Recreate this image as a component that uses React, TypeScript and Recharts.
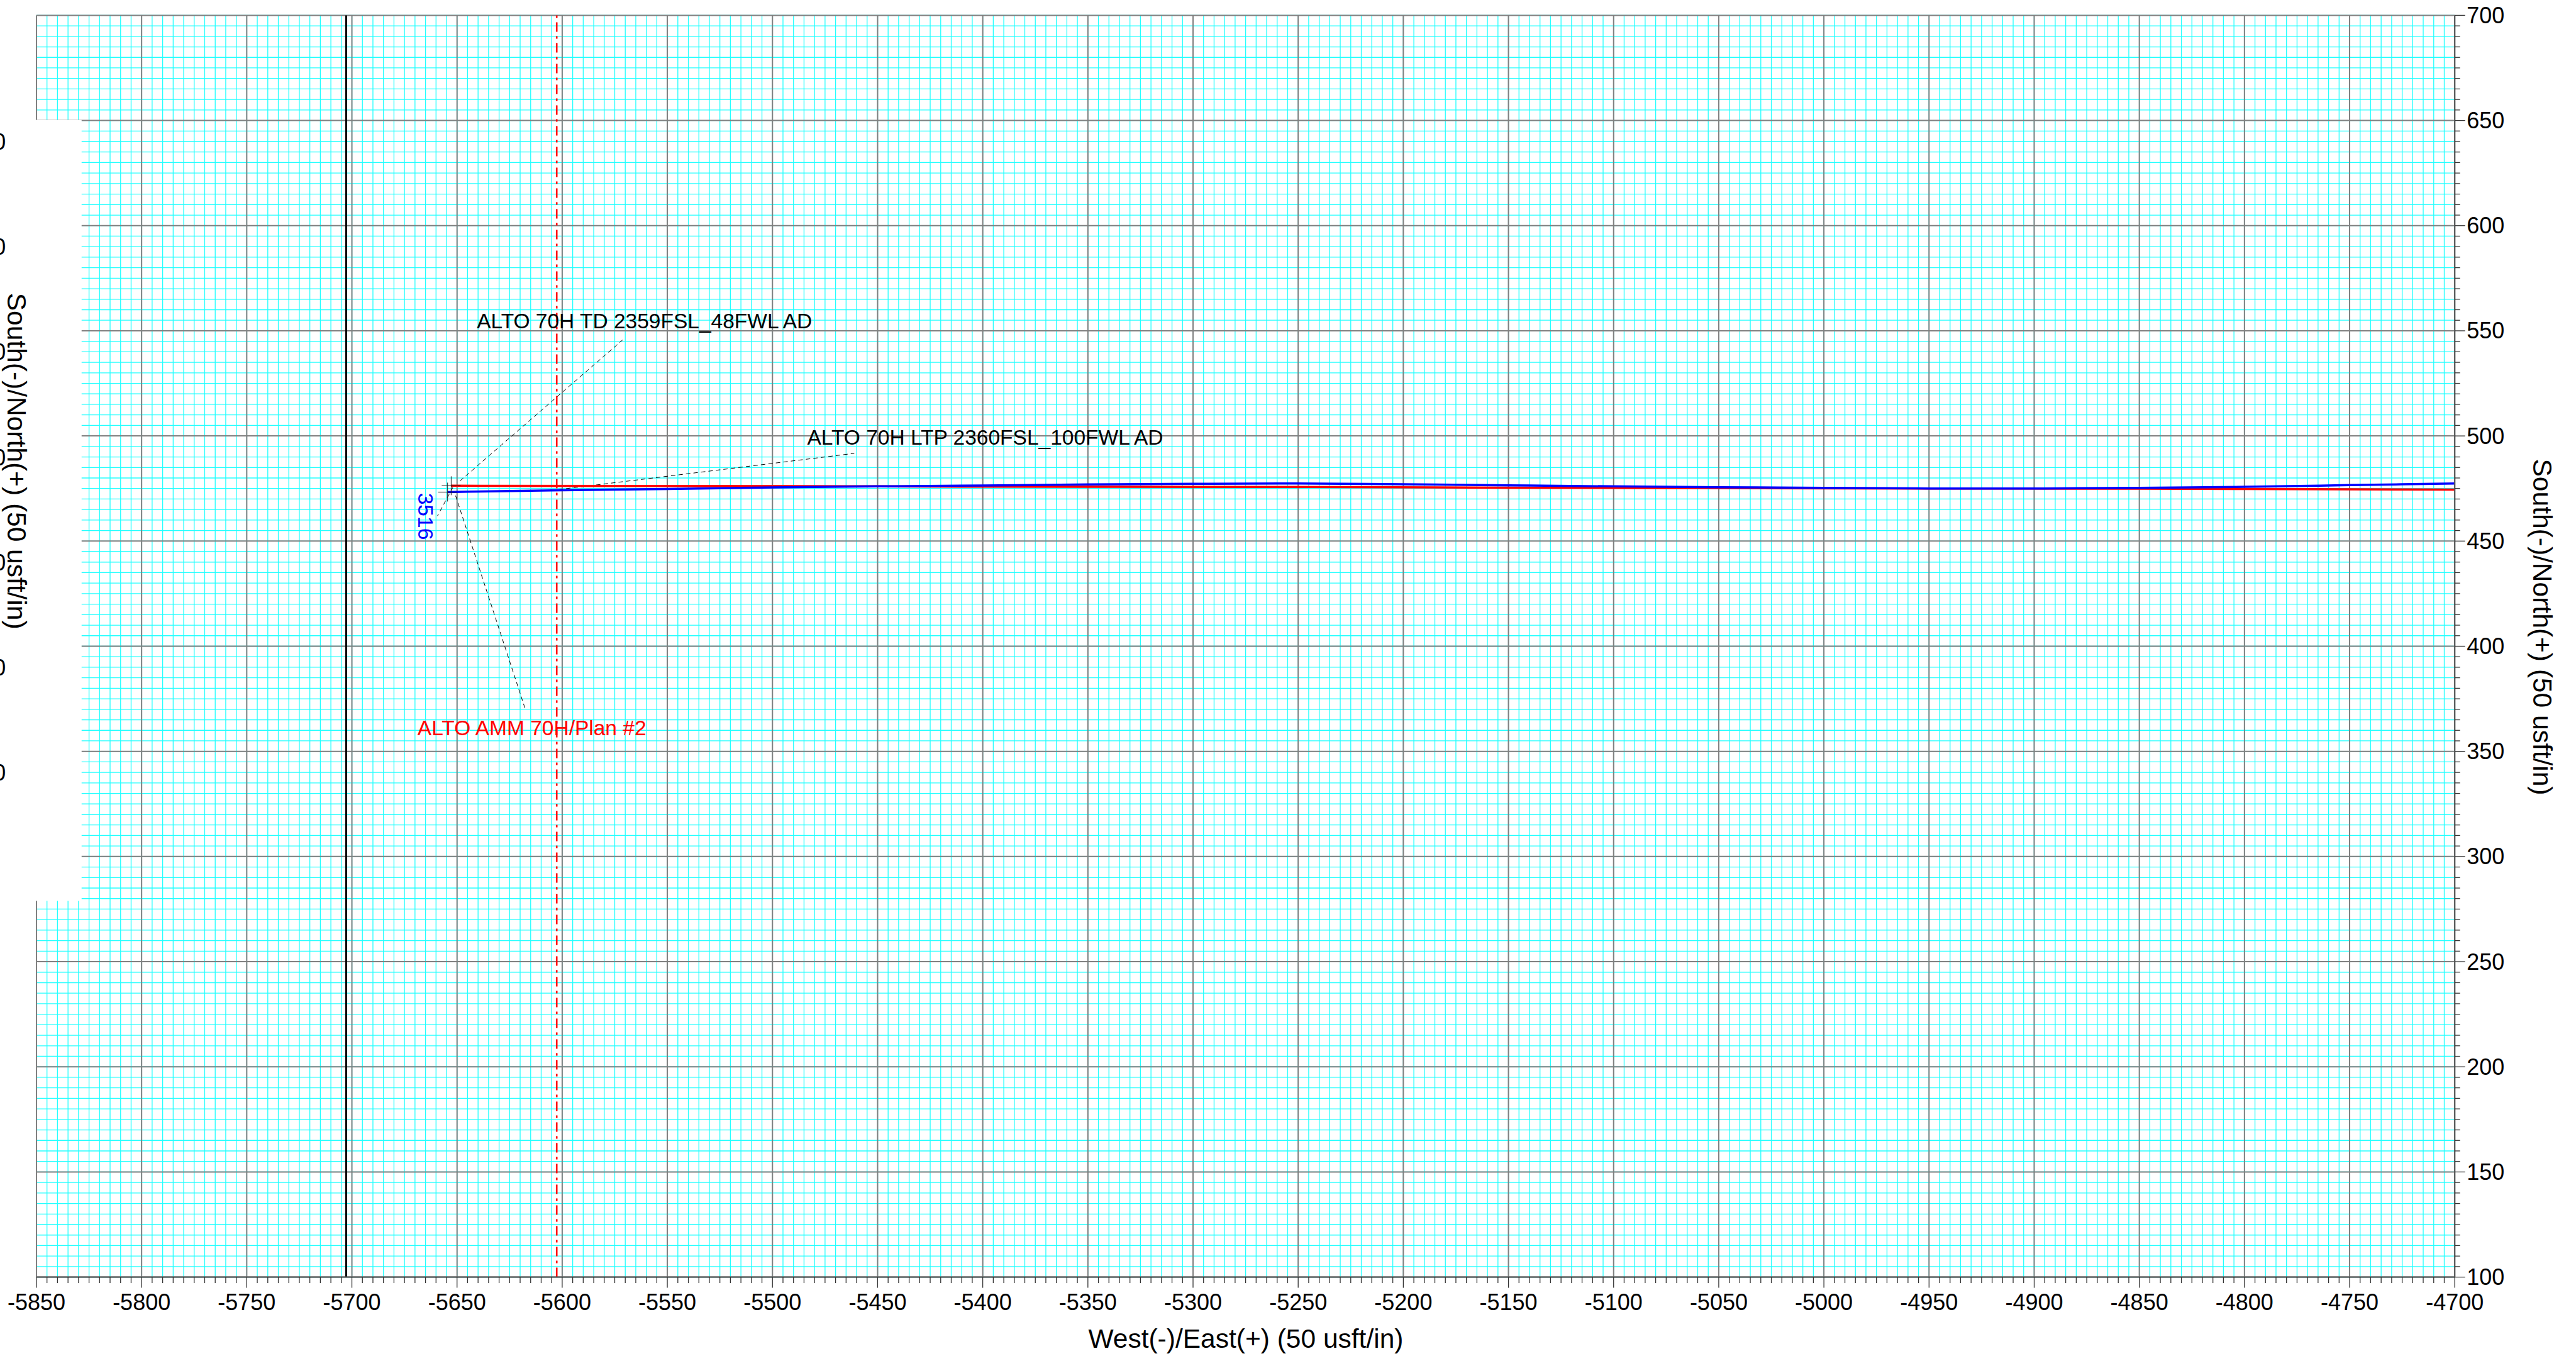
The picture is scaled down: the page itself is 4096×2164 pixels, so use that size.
import React from "react";
import {
  CartesianGrid,
  ComposedChart,
  Line,
  ReferenceLine,
  Scatter,
  XAxis,
  YAxis,
} from "recharts";

// scale from reference pixels to window pixels
const S = 4096 / 4704;
const W = 4096;
const H = 2164;

const xMajorTicks = [
  -5850, -5800, -5750, -5700, -5650, -5600, -5550, -5500, -5450, -5400, -5350,
  -5300, -5250, -5200, -5150, -5100, -5050, -5000, -4950, -4900, -4850, -4800,
  -4750, -4700,
];
const yMajorTicks = [
  100, 150, 200, 250, 300, 350, 400, 450, 500, 550, 600, 650, 700,
];
// cut-off labels at the left page edge
const leftCutLabels = [650, 600, 550, 500, 450, 400, 350];

// ALTO AMM 70H / Plan #2 (red)
const planX = [-5652.8, -5550, -5450, -5350, -5250, -5150, -5050, -4950, -4850, -4750, -4700];
const planY = [476.3, 476.2, 476.0, 475.8, 475.7, 475.4, 475.2, 475.0, 474.9, 474.6, 474.5];

// survey (blue)
const actualX = [
  -5654.5, -5600, -5550, -5500, -5450, -5400, -5350, -5300, -5250, -5200,
  -5150, -5100, -5050, -5000, -4950, -4900, -4850, -4800, -4750, -4700,
];
const actualY = [
  473.3, 474.2, 474.8, 475.5, 476.0, 476.4, 476.9, 477.2, 477.4, 477.0,
  476.5, 476.0, 475.6, 475.3, 475.0, 475.0, 475.3, 475.8, 476.6, 477.4,
];

const hardlineX = -5702.7;
const setbackX = -5602.6;

const annotations = [
  { x: -5640.6, y: 551.3, text: "ALTO 70H TD 2359FSL_48FWL AD", color: "#000000", rotate: 0 },
  { x: -5483.5, y: 495.8, text: "ALTO 70H LTP 2360FSL_100FWL AD", color: "#000000", rotate: 0 },
  { x: -5668.8, y: 357.8, text: "ALTO AMM 70H/Plan #2", color: "#ff0000", rotate: 0 },
  { x: -5668.6, y: 472.9, text: "3516", color: "#0000ff", rotate: 90 },
];

const leaderFrom = [
  { x: -5648.6, y: 478.6 },
  { x: -5601.7, y: 474.5 },
  { x: -5650.7, y: 471.6 },
  { x: -5652.0, y: 475.5 },
];
const leaderTo = [
  { x: -5571.3, y: 545.6 },
  { x: -5461.1, y: 491.7 },
  { x: -5617.3, y: 369.3 },
  { x: -5659.3, y: 462.0 },
];

const range = (a: number, b: number, step: number) => {
  const out: number[] = [];
  for (let v = a; v <= b + 1e-9; v += step) out.push(v);
  return out;
};
const xMinorTicks = range(xMajorTicks[0], xMajorTicks[xMajorTicks.length - 1], 5);
const yMinorTicks = range(yMajorTicks[0], yMajorTicks[yMajorTicks.length - 1], 5);

const planData = planX.map((x, i) => ({ x, y: planY[i] }));
const actualData = actualX.map((x, i) => ({ x, y: actualY[i] }));
const startPts = [planData[0], actualData[0]];

const FONT = "'Liberation Sans', Arial, sans-serif";
const TICK_FONT = 36;

const XTick = (props: any) => {
  const { x, y, payload } = props;
  const v = payload.value;
  const major = Math.abs(v % 50) < 1e-6;
  return (
    <g>
      <line x1={x} x2={x} y1={y} y2={y + (major ? 17 : 9.5)} stroke="#333" strokeWidth={1.3} />
      {major && (
        <text x={x} y={y + 40} textAnchor="middle" dominantBaseline="central" fontSize={TICK_FONT} fontFamily={FONT} fill="#000">
          {v}
        </text>
      )}
    </g>
  );
};

const YTick = (props: any) => {
  const { x, y, payload } = props;
  const v = payload.value;
  const major = Math.abs(v % 50) < 1e-6;
  return (
    <g>
      <line x1={x} x2={x + (major ? 16.5 : 8.5)} y1={y} y2={y} stroke="#333" strokeWidth={1.3} />
      {major && (
        <text x={x + 19} y={y} textAnchor="start" dominantBaseline="central" fontSize={TICK_FONT} fontFamily={FONT} fill="#000">
          {v}
        </text>
      )}
    </g>
  );
};

const Cross = (props: any) => {
  const { cx, cy } = props;
  const a = 15;
  return (
    <g>
      <line x1={cx - a} x2={cx + a} y1={cy} y2={cy} stroke="#222" strokeWidth={1} />
      <line x1={cx} x2={cx} y1={cy - a} y2={cy + a} stroke="#222" strokeWidth={1} />
    </g>
  );
};

const LabelShape = (props: any) => {
  const { cx, cy } = props;
  const p = props.payload || props;
  return (
    <text
      x={cx}
      y={cy}
      transform={p.rotate ? `rotate(${p.rotate} ${cx} ${cy})` : undefined}
      fontSize={33.5}
      fontFamily={FONT}
      fill={p.color}
      textAnchor="start"
    >
      {p.text}
    </text>
  );
};

export default function App() {
  const top = 28 * S;
  const pxPerUnit = 3.84 * S;
  const ghostY = (v: number) => top + (700 - v) * pxPerUnit + 39 * S;
  return (
    <div style={{ position: "absolute", left: 0, top: 0, width: W, height: H, background: "#fff" }}>
      <ComposedChart
        width={W}
        height={H}
        margin={{ top: top, left: 66.6 * S, right: 42.8, bottom: 33.4 }}
      >
        <CartesianGrid stroke="#22ffff" strokeWidth={1.3} />
        <XAxis
          type="number"
          dataKey="x"
          domain={[xMajorTicks[0], xMajorTicks[xMajorTicks.length - 1]]}
          ticks={xMinorTicks}
          interval={0}
          tickSize={0}
          tickMargin={0}
          tickLine={false}
          tick={(p: any) => <XTick {...p} />}
          axisLine={{ stroke: "#555", strokeWidth: 2 }}
          height={100}
          allowDataOverflow
        />
        <YAxis
          type="number"
          orientation="right"
          domain={[yMajorTicks[0], yMajorTicks[yMajorTicks.length - 1]]}
          ticks={yMinorTicks}
          interval={0}
          tickSize={0}
          tickMargin={0}
          tickLine={false}
          tick={(p: any) => <YTick {...p} />}
          axisLine={{ stroke: "#555", strokeWidth: 2 }}
          width={150}
          allowDataOverflow
        />
        {xMajorTicks.map((v) => (
          <ReferenceLine key={"gx" + v} x={v} stroke="#808080" strokeWidth={2} />
        ))}
        {yMajorTicks.map((v) => (
          <ReferenceLine key={"gy" + v} y={v} stroke="#808080" strokeWidth={2} />
        ))}
        <ReferenceLine x={hardlineX} stroke="#000" strokeWidth={3} />
        {leaderFrom.map((f, i) => (
          <ReferenceLine
            key={"ld" + i}
            segment={[f, leaderTo[i]]}
            stroke="#000"
            strokeWidth={1}
            strokeDasharray="7 5"
          />
        ))}
        <Scatter data={annotations} dataKey="y" shape={LabelShape} isAnimationActive={false} />
        <Line
          data={planData}
          dataKey="y"
          type="monotone"
          stroke="#ff0000"
          strokeWidth={3.5}
          dot={false}
          isAnimationActive={false}
        />
        <Line
          data={actualData}
          dataKey="y"
          type="monotone"
          stroke="#0000ff"
          strokeWidth={3.5}
          dot={false}
          isAnimationActive={false}
        />
        <Scatter data={startPts} dataKey="y" shape={Cross} isAnimationActive={false} />
        <ReferenceLine x={setbackX} stroke="#ff0000" strokeWidth={2.6} strokeDasharray="15 7 4 7" />
      </ComposedChart>
      <svg
        width={W}
        height={H}
        style={{ position: "absolute", left: 0, top: 0, pointerEvents: "none" }}
      >
        <rect x={0} y={219 * S} width={149 * S} height={(1645 - 219) * S} fill="#fff" />
        {leftCutLabels.map((v) => (
          <text
            key={"cut" + v}
            x={9.3}
            y={ghostY(v)}
            textAnchor="end"
            dominantBaseline="central"
            fontSize={TICK_FONT}
            fontFamily={FONT}
            fill="#000"
          >
            {v}
          </text>
        ))}
        <text
          x={30 * S}
          y={842 * S}
          transform={`rotate(90 ${30 * S} ${842 * S})`}
          textAnchor="middle"
          dominantBaseline="central"
          fontSize={42.5}
          fontFamily={FONT}
          fill="#000"
        >
          South(-)/North(+) (50 usft/in)
        </text>
        <text
          x={4642 * S}
          y={1145 * S}
          transform={`rotate(90 ${4642 * S} ${1145 * S})`}
          textAnchor="middle"
          dominantBaseline="central"
          fontSize={42.5}
          fontFamily={FONT}
          fill="#000"
        >
          South(-)/North(+) (50 usft/in)
        </text>
        <text
          x={2275 * S}
          y={2445 * S}
          textAnchor="middle"
          dominantBaseline="central"
          fontSize={42.5}
          fontFamily={FONT}
          fill="#000"
        >
          West(-)/East(+) (50 usft/in)
        </text>
      </svg>
    </div>
  );
}
